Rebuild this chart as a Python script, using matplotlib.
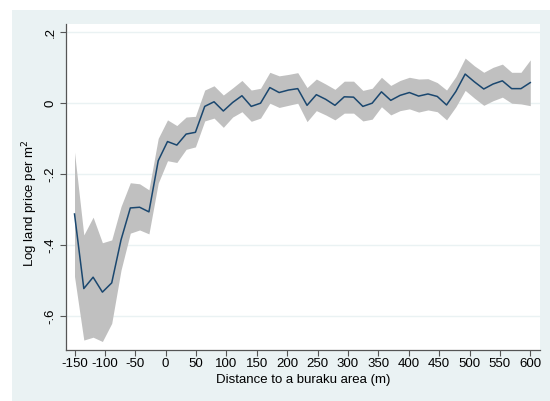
import numpy as np
import matplotlib
matplotlib.use("Agg")
import matplotlib.pyplot as plt
from matplotlib.patches import Rectangle

plt.rcParams['font.family'] = ['Liberation Sans', 'DejaVu Sans']

# Distance bins (m)
distance = np.linspace(-150, 600, 50)

# Point estimate
log_price = [
    -0.312, -0.522, -0.490, -0.532, -0.506, -0.385, -0.295, -0.293, -0.306, -0.162,
    -0.108, -0.118, -0.087, -0.082, -0.009, 0.004, -0.022, 0.002, 0.021, -0.009,
    0.000, 0.044, 0.030, 0.037, 0.041, -0.006, 0.024, 0.011, -0.006, 0.018,
    0.017, -0.009, 0.000, 0.032, 0.008, 0.022, 0.030, 0.020, 0.026, 0.019,
    -0.005, 0.033, 0.082, 0.060, 0.040, 0.054, 0.063, 0.041, 0.041, 0.058,
]
# Upper confidence bound
ci_upper = [
    -0.138, -0.371, -0.321, -0.393, -0.385, -0.291, -0.224, -0.227, -0.244, -0.099,
    -0.047, -0.063, -0.039, -0.037, 0.037, 0.049, 0.023, 0.043, 0.064, 0.037,
    0.042, 0.087, 0.077, 0.081, 0.086, 0.044, 0.068, 0.054, 0.039, 0.062,
    0.062, 0.036, 0.042, 0.073, 0.050, 0.064, 0.073, 0.068, 0.069, 0.058,
    0.037, 0.075, 0.127, 0.105, 0.087, 0.101, 0.110, 0.087, 0.087, 0.122,
]
# Lower confidence bound
ci_lower = [
    -0.488, -0.667, -0.659, -0.671, -0.620, -0.470, -0.366, -0.357, -0.368, -0.225,
    -0.162, -0.167, -0.130, -0.123, -0.050, -0.042, -0.068, -0.039, -0.024, -0.051,
    -0.042, 0.000, -0.012, -0.006, 0.000, -0.052, -0.021, -0.033, -0.047, -0.028,
    -0.028, -0.050, -0.045, -0.010, -0.033, -0.021, -0.016, -0.025, -0.019, -0.024,
    -0.047, -0.010, 0.036, 0.014, -0.006, 0.007, 0.017, 0.000, -0.002, -0.007,
]

x_ticks = [-150, -100, -50, 0, 50, 100, 150, 200, 250, 300, 350, 400, 450, 500, 550, 600]
y_ticks = [-0.6, -0.4, -0.2, 0.0, 0.2]
y_ticklabels = ['-.6', '-.4', '-.2', '0', '.2']

W, H = 550, 401
fig = plt.figure(figsize=(W / 100, H / 100), dpi=100, facecolor='white')
fig.patches.append(Rectangle((12 / W, 0), 1, 1 - 10 / H, transform=fig.transFigure,
                             facecolor='#EAF2F3', edgecolor='none', zorder=-10))

ax = fig.add_axes([66 / W, 1 - 350 / H, (540 - 66) / W, (350 - 24) / H])
ax.set_facecolor('white')

ax.fill_between(distance, ci_lower, ci_upper, color='#C0C0C0', linewidth=0, zorder=2)
ax.plot(distance, log_price, color='#1A476F', linewidth=1.1, zorder=3)

ax.set_xlim(-164, 616)
ax.set_ylim(-0.695, 0.223)
ax.set_xticks(x_ticks)
ax.set_xticklabels([str(t) for t in x_ticks])
ax.set_yticks(y_ticks)
ax.set_yticklabels(y_ticklabels, rotation=90, va='center')

ax.grid(axis='y', color='#EAF2F3', linewidth=1.0, zorder=1)
ax.grid(axis='x', visible=False)

for s in ['top', 'right']:
    ax.spines[s].set_visible(False)
for s in ['left', 'bottom']:
    ax.spines[s].set_color('#555555')
    ax.spines[s].set_linewidth(0.9)

ax.tick_params(axis='both', direction='out', length=4, width=0.8, color='#555555',
               labelsize=9.5, labelcolor='#000000')
ax.tick_params(axis='x', pad=2)
ax.tick_params(axis='y', pad=3)

ax.set_xlabel('Distance to a buraku area (m)', fontsize=9.5, labelpad=2.5)
ax.set_ylabel('Log land price per m$^2$', fontsize=9.5)
ax.yaxis.set_label_coords(-0.054, 0.45)

fig.savefig('out.png', dpi=100, facecolor=fig.get_facecolor())
